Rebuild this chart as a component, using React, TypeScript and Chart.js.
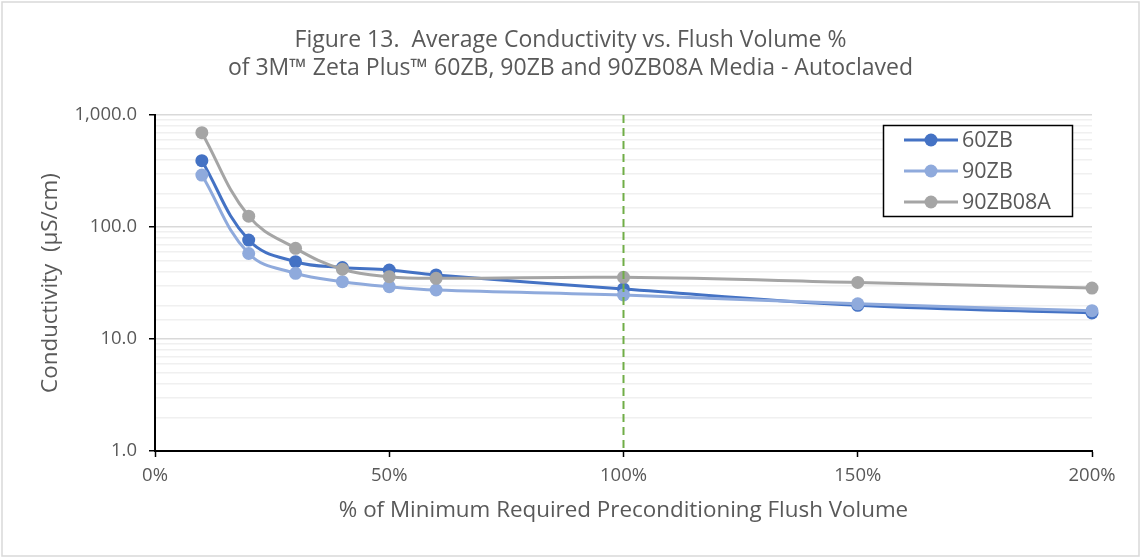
import React, { useEffect, useRef } from 'react';
import { Chart, registerables } from 'chart.js';

Chart.register(...registerables);

// ---- data ----
const flushPct = [10, 20, 30, 40, 50, 60, 100, 150, 200];
const zb60 = [391, 76.5, 49, 43.5, 41.3, 37.3, 28, 20, 17.1];
const zb90 = [291, 58, 38.6, 32.5, 29.3, 27.4, 24.7, 20.6, 17.9];
const zb90b08a = [695, 125, 64.5, 42, 36, 34.8, 35.5, 32, 28.5];
const seriesNames = ['60ZB', '90ZB', '90ZB08A'];
const seriesColors = ['#4472C4', '#8FAADC', '#A5A5A5'];
const xTickValues = [0, 50, 100, 150, 200];
const yDecades = [1, 10, 100, 1000];
const requiredFlush = 100;
const titleLines = [
  'Figure 13.  Average Conductivity vs. Flush Volume %',
  'of 3M\u2122 Zeta Plus\u2122 60ZB, 90ZB and 90ZB08A Media - Autoclaved',
];
const yAxisTitle = 'Conductivity  (\u00B5S/cm)';
const xAxisTitle = '% of Minimum Required Preconditioning Flush Volume';

const FONT = '"Open Sans", Lato, "DejaVu Sans", sans-serif';
const WEIGHT = '400';
const TEXT = '#595959';

const isDecade = (v: number) => yDecades.indexOf(v) >= 0;

export default function App() {
  const ref = useRef<HTMLCanvasElement | null>(null);

  useEffect(() => {
    const canvas = ref.current;
    if (!canvas) return;
    const seriesValues = [zb60, zb90, zb90b08a];

    const framePlugin = {
      id: 'frame',
      beforeDraw(chart: any) {
        const { ctx, width, height } = chart;
        ctx.save();
        ctx.fillStyle = '#ffffff';
        ctx.fillRect(0, 0, width, height);
        ctx.strokeStyle = '#d9d9d9';
        ctx.lineWidth = 1.5;
        ctx.strokeRect(2, 2, width - 4, height - 3);
        // title
        ctx.fillStyle = TEXT;
        ctx.font = `${WEIGHT} 23px ${FONT}`;
        ctx.textAlign = 'center';
        ctx.textBaseline = 'middle';
        ctx.fillText(titleLines[0], width / 2, 40);
        ctx.fillText(titleLines[1], width / 2, 68);
        ctx.restore();
      },
      afterDatasetsDraw(chart: any) {
        const { ctx, chartArea, scales } = chart;
        const x = scales.x.getPixelForValue(requiredFlush);
        ctx.save();
        ctx.strokeStyle = '#70AD47';
        ctx.lineWidth = 2;
        ctx.setLineDash([8, 5]);
        ctx.beginPath();
        ctx.moveTo(x, chartArea.top);
        ctx.lineTo(x, chartArea.bottom);
        ctx.stroke();
        ctx.restore();
      },
      afterDraw(chart: any) {
        const { ctx } = chart;
        ctx.save();
        const bx = 883, by = 125, bw = 189, bh = 91;
        ctx.fillStyle = '#ffffff';
        ctx.fillRect(bx, by, bw, bh);
        ctx.strokeStyle = '#000000';
        ctx.lineWidth = 1.5;
        ctx.strokeRect(bx + 0.5, by + 0.5, bw, bh);
        seriesNames.forEach((name, i) => {
          const y = 140 + i * 31;
          ctx.strokeStyle = seriesColors[i];
          ctx.lineWidth = 3;
          ctx.beginPath();
          ctx.moveTo(904, y);
          ctx.lineTo(958, y);
          ctx.stroke();
          ctx.fillStyle = seriesColors[i];
          ctx.beginPath();
          ctx.arc(931, y, 6.5, 0, Math.PI * 2);
          ctx.fill();
          ctx.fillStyle = TEXT;
          ctx.font = `${WEIGHT} 21.5px ${FONT}`;
          ctx.textAlign = 'left';
          ctx.textBaseline = 'middle';
          ctx.fillText(name, 962, y + 1);
        });
        ctx.restore();
      },
    };

    const chart = new Chart(canvas, {
      type: 'line',
      data: {
        datasets: seriesNames.map((name, i) => ({
          label: name,
          data: flushPct.map((x, j) => ({ x, y: seriesValues[i][j] })),
          borderColor: seriesColors[i],
          backgroundColor: seriesColors[i],
          pointBackgroundColor: seriesColors[i],
          pointBorderColor: seriesColors[i],
          pointBorderWidth: 0,
          pointRadius: 6.5,
          borderWidth: 3,
          tension: 0.4,
          fill: false,
          clip: false as any,
          order: 2 - i,
        })),
      },
      options: {
        animation: false,
        responsive: false,
        devicePixelRatio: 1,
        layout: { padding: { top: 115, right: 49, bottom: 30, left: 0 } },
        plugins: {
          legend: { display: false },
          title: { display: false },
          tooltip: { enabled: false },
        },
        scales: {
          x: {
            type: 'linear',
            min: 0,
            max: 200,
            afterBuildTicks: (s: any) => {
              s.ticks = xTickValues.map((v) => ({ value: v }));
            },
            afterFit: (s: any) => {
              s.height = 76;
              s.paddingLeft = 0;
              s.paddingRight = 0;
            },
            ticks: {
              color: TEXT,
              font: { family: FONT, size: 18.5, weight: WEIGHT },
              padding: 8,
              maxRotation: 0,
              autoSkip: false,
              callback: (v: any) => `${v}%`,
            },
            grid: {
              drawOnChartArea: false,
              drawTicks: true,
              tickLength: 6,
              tickColor: '#000000',
              tickWidth: 1.5,
            },
            border: { display: true, color: '#000000', width: 2 },
            title: {
              display: true,
              text: xAxisTitle,
              color: TEXT,
              font: { family: FONT, size: 22.4, weight: WEIGHT },
              padding: { top: 0, bottom: 2.5 },
            },
          },
          y: {
            type: 'logarithmic',
            min: 1,
            max: 1000,
            afterFit: (s: any) => {
              s.width = 155;
              s.paddingTop = 0;
              s.paddingBottom = 0;
            },
            ticks: {
              color: TEXT,
              font: { family: FONT, size: 18.5, weight: WEIGHT },
              padding: 12,
              autoSkip: false,
              callback: (v: any) => {
                const n = Number(v);
                if (!isDecade(n)) return '';
                return n.toLocaleString('en-US', { minimumFractionDigits: 1, maximumFractionDigits: 1 });
              },
            },
            grid: {
              drawTicks: true,
              tickLength: 6,
              color: (c: any) => (c.tick && isDecade(c.tick.value) ? '#D9D9D9' : '#F0F0F0'),
              lineWidth: 1.5,
              tickColor: (c: any) => (c.tick && isDecade(c.tick.value) ? '#000000' : 'rgba(0,0,0,0)'),
              tickWidth: 1.5,
            },
            border: { display: true, color: '#000000', width: 2 },
            title: {
              display: true,
              text: yAxisTitle,
              color: TEXT,
              font: { family: FONT, size: 22.4, weight: WEIGHT },
              padding: { top: 37.5, bottom: 0 },
            },
          },
        },
      } as any,
      plugins: [framePlugin],
    });

    return () => chart.destroy();
  }, []);

  return (
    <div style={{ position: 'absolute', left: 0, top: 0, width: 1141, height: 557 }}>
      <canvas ref={ref} width={1141} height={557} style={{ display: 'block', width: 1141, height: 557 }} />
    </div>
  );
}
